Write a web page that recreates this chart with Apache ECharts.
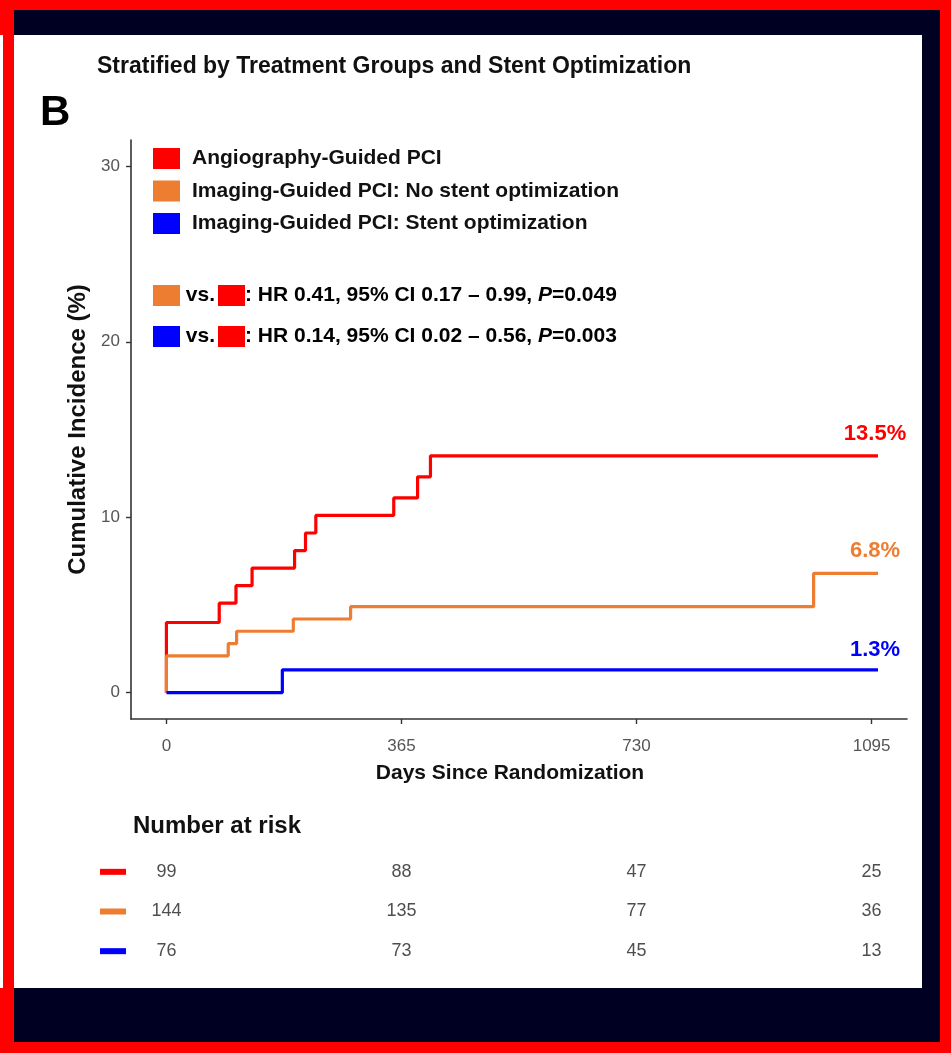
<!DOCTYPE html>
<html>
<head>
<meta charset="utf-8">
<script src="https://cdn.jsdelivr.net/npm/echarts@6/dist/echarts.min.js"></script>
<style>
  html, body { margin: 0; padding: 0; width: 951px; height: 1053px; overflow: hidden; background: #ff0000; }
  #navy { position: absolute; left: 8px; top: 10px; width: 932px; height: 1032px; background: #000022; }
  #white { position: absolute; left: 0px; top: 35px; width: 922px; height: 953px; background: #ffffff; }
  #redstrip { position: absolute; left: 3px; top: 0px; width: 11px; height: 1053px; background: #ff0000; }
  #chart { position: absolute; left: 0; top: 0; width: 951px; height: 1053px; }
</style>
</head>
<body>
<div id="navy"></div>
<div id="white"></div>
<div id="redstrip"></div>
<div id="chart"></div>
<script>
// ---- data ----
const seriesNames = ['Angiography-Guided PCI', 'Imaging-Guided PCI: No stent optimization', 'Imaging-Guided PCI: Stent optimization'];
const seriesColors = ['#ff0000', '#ed7d31', '#0000ff'];
// step curves: [day, cumulative incidence %]
const angioCurve = [[0,0],[0,4.0],[82,5.1],[108,6.1],[133,7.1],[199,8.1],[216,9.1],[232,10.1],[353,11.1],[390,12.3],[410,13.5],[1105,13.5]];
const noOptCurve = [[0,0],[0,2.1],[96,2.8],[109,3.5],[197,4.2],[286,4.9],[1005,6.8],[1105,6.8]];
const optCurve   = [[0,0],[180,1.3],[1105,1.3]];
const endLabels = ['13.5%', '6.8%', '1.3%'];
const xTicks = [0, 365, 730, 1095];
const yTicks = [0, 10, 20, 30];
const riskTimes = [0, 365, 730, 1095];
const riskAngio = [99, 88, 47, 25];
const riskNoOpt = [144, 135, 77, 36];
const riskOpt   = [76, 73, 45, 13];
const hrTexts = [
  ['HR 0.41, 95% CI 0.17 \u2013 0.99, ', 'P', '=0.049'],
  ['HR 0.14, 95% CI 0.02 \u2013 0.56, ', 'P', '=0.003']
];

const FONT = "'Liberation Sans', Arial, sans-serif";
const chart = echarts.init(document.getElementById('chart'), null, { renderer: 'canvas' });

const curves = [angioCurve, noOptCurve, optCurve];
const labelDist = [11, 11, 9];

const lineSeries = curves.map((c, i) => ({
  name: seriesNames[i],
  type: 'line',
  step: 'end',
  xAxisIndex: 0, yAxisIndex: 0,
  data: c.map((p, j) => j === c.length - 1 ? {
    value: p,
    label: { show: true, position: 'top', distance: labelDist[i], offset: [-3, 0], formatter: endLabels[i],
      color: seriesColors[i], fontSize: 22, fontWeight: 'bold', fontFamily: FONT }
  } : p),
  showSymbol: true,
  symbol: 'circle',
  symbolSize: 0,
  lineStyle: { color: seriesColors[i], width: 3.2 },
  itemStyle: { color: seriesColors[i] },
  animation: false,
  z: 3 + i
}));

const risks = [riskAngio, riskNoOpt, riskOpt];
const riskCats = ['a', 'b', 'c'];
const riskSeries = risks.map((r, i) => ({
  type: 'scatter',
  xAxisIndex: 1, yAxisIndex: 1,
  symbolSize: 0,
  data: r.map((v, j) => [riskTimes[j], riskCats[i], v]),
  label: { show: true, position: 'inside', formatter: p => String(p.value[2]),
    color: '#222', fontSize: 18, fontFamily: FONT },
  animation: false,
  silent: true
}));

const legendRich = {
  o: { width: 27, height: 21, backgroundColor: seriesColors[1] },
  r: { width: 27, height: 21, backgroundColor: seriesColors[0] },
  b: { width: 27, height: 21, backgroundColor: seriesColors[2] },
  g: { width: 3, height: 21 },
  t: { fontSize: 21, fontWeight: 'bold', fontFamily: FONT, color: '#111' },
  i: { fontSize: 21, fontWeight: 'bold', fontStyle: 'italic', fontFamily: FONT, color: '#111' }
};

const option = {
  backgroundColor: 'transparent',
  animation: false,
  title: [
    { text: 'Stratified by Treatment Groups and Stent Optimization', left: 97, top: 55, padding: 0,
      textStyle: { fontSize: 23, fontWeight: 'bold', fontFamily: FONT, color: '#111' } },
    { text: 'B', left: 40, top: 92, padding: 0, textStyle: { fontSize: 42, fontWeight: 'bold', fontFamily: FONT, color: '#000' } },
    { text: 'Number at risk', left: 133, top: 814, padding: 0, textStyle: { fontSize: 24, fontWeight: 'bold', fontFamily: FONT, color: '#111' } }
  ],
  legend: {
    orient: 'vertical', left: 153, top: 148, padding: 0,
    itemWidth: 27, itemHeight: 21, itemGap: 11.5,
    icon: 'rect',
    data: seriesNames,
    textStyle: { fontSize: 21, fontWeight: 'bold', fontFamily: FONT, color: '#111', padding: [0, 0, 0, 7] },
    selectedMode: false
  },
  graphic: [
    { type: 'text', left: 153, top: 285, style: {
        text: '{o|}{t| vs.}{g|}{r|}{t|: ' + hrTexts[0][0] + '}{i|' + hrTexts[0][1] + '}{t|' + hrTexts[0][2] + '}', rich: legendRich } },
    { type: 'text', left: 153, top: 326, style: {
        text: '{b|}{t| vs.}{g|}{r|}{t|: ' + hrTexts[1][0] + '}{i|' + hrTexts[1][1] + '}{t|' + hrTexts[1][2] + '}', rich: legendRich } }
  ],
  grid: [
    { left: 131, right: 44, top: 140, bottom: 334 },
    { left: 131, right: 44, top: 852, height: 119 }
  ],
  xAxis: [
    { type: 'value', gridIndex: 0, min: -55, max: 1150,
      axisLine: { show: true, onZero: false, lineStyle: { color: '#333', width: 1.6 } },
      axisTick: { show: true, length: 5, customValues: xTicks, lineStyle: { color: '#333', width: 1.4 } },
      axisLabel: { customValues: xTicks, formatter: v => String(v), margin: 19, color: '#555', fontSize: 17, fontFamily: FONT },
      splitLine: { show: false },
      name: 'Days Since Randomization', nameLocation: 'middle', nameGap: 44,
      nameTextStyle: { fontSize: 21, fontWeight: 'bold', fontFamily: FONT, color: '#111', padding: [0, 18, 0, 0] }
    },
    { type: 'value', gridIndex: 1, min: -55, max: 1150, show: false }
  ],
  yAxis: [
    { type: 'value', gridIndex: 0, min: -1.5, max: 31.5,
      axisLine: { show: true, onZero: false, lineStyle: { color: '#333', width: 1.6 } },
      axisTick: { show: true, length: 5, customValues: yTicks, lineStyle: { color: '#333', width: 1.4 } },
      axisLabel: { customValues: yTicks, formatter: v => String(v), margin: 11, color: '#555', fontSize: 17, fontFamily: FONT },
      splitLine: { show: false },
      name: 'Cumulative Incidence (%)', nameLocation: 'middle', nameGap: 37,
      nameTextStyle: { fontSize: 24, fontWeight: 'bold', fontFamily: FONT, color: '#111' }
    },
    { type: 'category', gridIndex: 1, data: riskCats, inverse: true,
      axisLine: { show: false }, axisTick: { show: false }, splitLine: { show: false },
      axisLabel: { margin: 5, formatter: v => '{' + v + '|}',
        rich: {
          a: { width: 26, height: 6, backgroundColor: seriesColors[0] },
          b: { width: 26, height: 6, backgroundColor: seriesColors[1] },
          c: { width: 26, height: 6, backgroundColor: seriesColors[2] }
        } }
    }
  ],
  series: lineSeries.concat(riskSeries)
};
chart.setOption(option);
</script>
</body>
</html>
